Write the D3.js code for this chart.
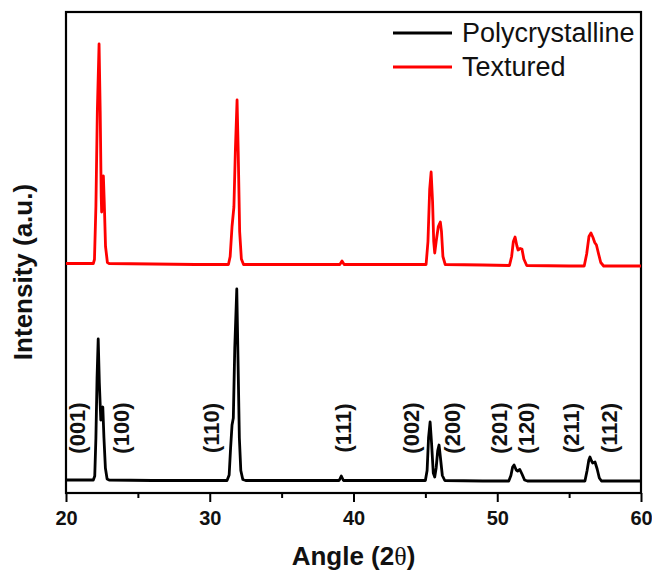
<!DOCTYPE html>
<html>
<head>
<meta charset="utf-8">
<script src="https://cdn.jsdelivr.net/npm/d3@7"></script>
<style>
    body { margin: 0; background: #fff; }
    svg { display: block; font-family: "Liberation Sans", Arial, sans-serif; }
</style>
</head>
<body>
<div id="chart1"></div>
<script>
// XRD pattern: [2theta, intensity (a.u.)]
const polyData = [
    [20.0, 26], [21.0, 26], [21.9, 26], [22.0, 34], [22.08, 110], [22.16, 230], [22.24, 308],
    [22.32, 220], [22.42, 146], [22.5, 165], [22.56, 172], [22.64, 110], [22.74, 50], [22.86, 28],
    [23.0, 26], [26.0, 25], [29.0, 25], [31.2, 25], [31.35, 36], [31.45, 90], [31.55, 136],
    [31.64, 150], [31.74, 290], [31.88, 408], [31.97, 260], [32.06, 110], [32.16, 45], [32.3, 27],
    [32.5, 25], [36.0, 25], [39.0, 25], [39.15, 34], [39.3, 25], [42.0, 25], [45.0, 25],
    [45.12, 45], [45.22, 110], [45.33, 142], [45.43, 100], [45.55, 40], [45.65, 32], [45.75, 50],
    [45.86, 85], [45.95, 96], [46.05, 70], [46.18, 35], [46.35, 25], [49.0, 24], [50.8, 24],
    [50.95, 35], [51.07, 52], [51.17, 56], [51.32, 46], [51.42, 44], [51.57, 47], [51.72, 38],
    [51.9, 26], [52.1, 24], [55.0, 24], [56.1, 24], [56.25, 45], [56.37, 66], [56.45, 72],
    [56.56, 64], [56.64, 60], [56.8, 62], [56.95, 48], [57.1, 30], [57.25, 24], [60.0, 24]
];

const texturedData = [
    [20.0, 26], [21.0, 26], [21.9, 26], [21.98, 34], [22.08, 140], [22.18, 330], [22.3, 465],
    [22.38, 330], [22.45, 160], [22.48, 129], [22.54, 180], [22.6, 201], [22.66, 150], [22.75, 60],
    [22.88, 28], [23.0, 26], [26.0, 25], [29.0, 24], [31.3, 24], [31.42, 40], [31.55, 100],
    [31.68, 139], [31.78, 250], [31.9, 353], [31.98, 250], [32.08, 90], [32.2, 35], [32.35, 24],
    [35.0, 24], [39.05, 24], [39.2, 31], [39.35, 24], [42.0, 24], [45.05, 24], [45.18, 70],
    [45.3, 175], [45.4, 209], [45.5, 150], [45.58, 70], [45.65, 47], [45.75, 70], [45.9, 100],
    [46.04, 109], [46.12, 90], [46.22, 40], [46.38, 24], [49.0, 23], [50.85, 22], [51.0, 40],
    [51.12, 70], [51.24, 79], [51.36, 62], [51.45, 53], [51.6, 56], [51.72, 55], [51.85, 35],
    [52.05, 22], [55.0, 21], [56.05, 21], [56.22, 45], [56.38, 80], [56.52, 87], [56.66, 78],
    [56.78, 68], [56.9, 63], [57.05, 45], [57.2, 28], [57.4, 21], [60.0, 21]
];

// vertical offset of the textured pattern (stacked plot)
const texturedOffset = 433;

// Miller indices and the angle where each label sits
const hklLabels = ["(001)", "(100)", "(110)", "(111)", "(002)", "(200)", "(201)", "(120)", "(211)", "(112)"];
const hklAngles = [20.83, 23.87, 30.14, 39.27, 44.05, 46.92, 50.19, 52.0, 55.18, 57.84];

const xMajorTicks = [20, 30, 40, 50, 60];
const xMinorTicks = [25, 35, 45, 55];

const seriesNames = ["Polycrystalline", "Textured"];
const seriesColors = ["#000000", "#ff0000"];

createXrdPlot();

function createXrdPlot() {
    const margin = { top: 12, right: 11, bottom: 82, left: 66 };
    const width = 575;
    const height = 481;

    const svg = d3.select("#chart1")
        .append("svg")
        .attr("width", width + margin.left + margin.right)
        .attr("height", height + margin.top + margin.bottom);

    const g = svg.append("g")
        .attr("transform", `translate(${margin.left},${margin.top})`);

    // Scales
    const xScale = d3.scaleLinear().domain([20, 60]).range([0, width]);
    const yScale = d3.scaleLinear().domain([0, 962]).range([height, 0]);

    // Minor ticks first, then major ticks with labels
    g.append("g")
        .attr("transform", `translate(0,${height})`)
        .call(d3.axisBottom(xScale).tickValues(xMinorTicks).tickSize(5).tickFormat(""))
        .call(ax => ax.select(".domain").remove())
        .call(ax => ax.selectAll("line").attr("stroke-width", 2));

    g.append("g")
        .attr("transform", `translate(0,${height})`)
        .call(d3.axisBottom(xScale).tickValues(xMajorTicks).tickSize(9).tickPadding(9).tickFormat(d3.format("d")))
        .call(ax => ax.select(".domain").remove())
        .call(ax => ax.selectAll("line").attr("stroke-width", 2))
        .call(ax => ax.selectAll("text")
            .attr("font-size", 20)
            .attr("font-weight", "bold")
            .attr("font-family", "Liberation Sans, Arial, sans-serif")
            .attr("fill", "#111"));

    // Plot frame
    g.append("rect")
        .attr("x", 0).attr("y", 0)
        .attr("width", width).attr("height", height)
        .attr("fill", "none")
        .attr("stroke", "#000")
        .attr("stroke-width", 2.2);

    // Pattern lines
    const line = d3.line()
        .x(d => xScale(d[0]))
        .y(d => yScale(d[1]));

    g.append("path")
        .datum(polyData)
        .attr("d", line)
        .attr("fill", "none")
        .attr("stroke", seriesColors[0])
        .attr("stroke-width", 2.8)
        .attr("stroke-linejoin", "round");

    g.append("path")
        .datum(texturedData.map(d => [d[0], d[1] + texturedOffset]))
        .attr("d", line)
        .attr("fill", "none")
        .attr("stroke", seriesColors[1])
        .attr("stroke-width", 2.8)
        .attr("stroke-linejoin", "round");

    // hkl labels, rotated
    const labelY = 416;
    g.selectAll(".hkl")
        .data(hklLabels)
        .join("text")
        .attr("class", "hkl")
        .attr("transform", (d, i) => `translate(${xScale(hklAngles[i])},${labelY}) rotate(-90)`)
        .attr("text-anchor", "middle")
        .attr("dominant-baseline", "central")
        .attr("font-size", 22)
        .attr("font-weight", "bold")
        .attr("fill", "#111")
        .text(d => d);

    // Legend
    const legend = g.append("g")
        .attr("transform", `translate(${327},${21})`);

    seriesNames.forEach((name, i) => {
        legend.append("line")
            .attr("x1", 0).attr("x2", 59)
            .attr("y1", i * 34).attr("y2", i * 34)
            .attr("stroke", seriesColors[i])
            .attr("stroke-width", 3);
        legend.append("text")
            .attr("x", 69)
            .attr("y", i * 34 + 9)
            .attr("font-size", 27)
            .attr("fill", "#111")
            .text(name);
    });

    // Axis titles
    const xTitle = svg.append("text")
        .attr("x", margin.left + width / 2)
        .attr("y", 565)
        .attr("text-anchor", "middle")
        .attr("font-size", 26)
        .attr("font-weight", "bold")
        .attr("fill", "#111");
    xTitle.append("tspan").text("Angle (2");
    xTitle.append("tspan")
        .attr("font-family", "Liberation Serif, serif")
        .attr("font-weight", "normal")
        .text("θ");
    xTitle.append("tspan").text(")");

    svg.append("text")
        .attr("transform", `translate(32,${272}) rotate(-90)`)
        .attr("text-anchor", "middle")
        .attr("font-size", 26)
        .attr("font-weight", "bold")
        .attr("fill", "#111")
        .text("Intensity (a.u.)");
}
</script>
</body>
</html>
